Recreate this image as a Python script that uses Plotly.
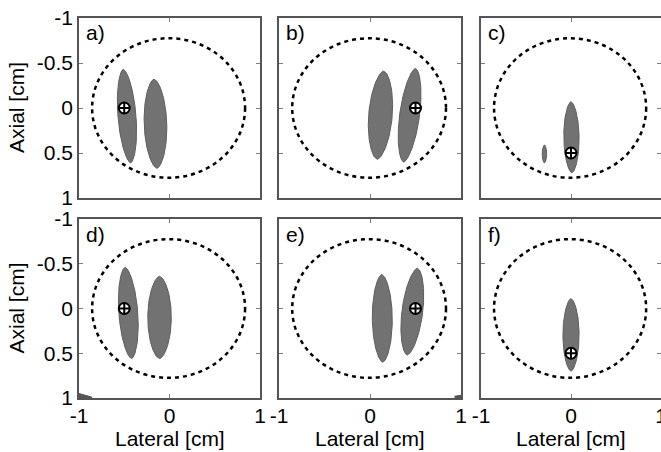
import numpy as np
import plotly.graph_objects as go

W, H = 661, 452

panel_labels = ["a)", "b)", "c)", "d)", "e)", "f)"]
x_ticks = [-1, 0, 1]
y_ticks = [-1, -0.5, 0, 0.5, 1]
y_ticktext = ["-1", "-0.5", "0", "0.5", "1"]

# target (crosshair marker) positions per panel
target_x = [-0.5, 0.5, 0.0, -0.5, 0.5, 0.0]
target_y = [0.0, 0.0, 0.5, 0.0, 0.0, 0.5]

# dashed region outline (ellipse) per panel: centre x, centre y, radius x, radius y
roi_cx = [-0.01] * 6
roi_cy = [0.0] * 6
roi_rx = [0.845] * 6
roi_ry = [0.775] * 6

# blobs: (top, bottom, x at top, x at bottom, half width)
blobs = [
    [(-0.43, 0.61, -0.51, -0.43, 0.10), (-0.32, 0.67, -0.17, -0.14, 0.125)],
    [(-0.41, 0.57, 0.15, 0.08, 0.13), (-0.44, 0.60, 0.50, 0.37, 0.11)],
    [(-0.07, 0.72, 0.0, 0.01, 0.085), (0.41, 0.61, -0.295, -0.295, 0.025)],
    [(-0.46, 0.56, -0.49, -0.42, 0.105), (-0.36, 0.56, -0.11, -0.11, 0.13)],
    [(-0.38, 0.60, 0.13, 0.14, 0.11), (-0.45, 0.52, 0.52, 0.41, 0.115)],
    [(-0.11, 0.70, 0.0, 0.0, 0.09)],
]

# small artefacts in the panel corners: panel index, x list, y list
corner_panel = [3, 4]
corner_x = [[-1.0, -0.86, -0.86, -1.0], [0.93, 1.0, 1.0, 0.93]]
corner_y = [[0.95, 0.99, 1.0, 1.0], [0.98, 0.97, 1.0, 1.0]]

# pixel layout of the panels
col_px = [(79, 260), (279, 461), (481, 661)]
row_px = [(18, 198), (219, 398)]

FONT = "Liberation Sans, Arial, sans-serif"
FS = 21

fig = go.Figure()
layout = dict(
    width=W, height=H,
    margin=dict(l=0, r=0, t=0, b=0, pad=0, autoexpand=False),
    paper_bgcolor="white", plot_bgcolor="white", showlegend=False,
    font=dict(family=FONT, size=FS, color="black"),
)
shapes = []
annotations = []

s = np.linspace(-1, 1, 121)
for i in range(6):
    r, c = divmod(i, 3)
    ax = "" if i == 0 else str(i + 1)
    xa, ya = "x" + ax, "y" + ax
    x0p, x1p = col_px[c]
    y0p, y1p = row_px[r]
    layout["xaxis" + ax] = dict(
        domain=[x0p / W, x1p / W], range=[-1, 1], anchor=ya,
        tickvals=x_ticks, ticktext=[str(v) for v in x_ticks],
        showticklabels=(r == 1), ticks="inside", ticklen=4, tickcolor="#808080",
        showline=True, linecolor="#555555", linewidth=1.5, mirror="ticks",
        showgrid=False, zeroline=False, fixedrange=True, automargin=False,
        ticklabeloverflow="allow", ticklabelstandoff=-2,
        tickfont=dict(family=FONT, size=FS, color="black"),
    )
    layout["yaxis" + ax] = dict(
        domain=[1 - y1p / H, 1 - y0p / H], range=[1, -1], anchor=xa,
        tickvals=y_ticks, ticktext=y_ticktext,
        showticklabels=(c == 0), ticks="inside", ticklen=4, tickcolor="#808080",
        showline=True, linecolor="#555555", linewidth=1.5, mirror="ticks",
        showgrid=False, zeroline=False, fixedrange=True, automargin=False,
        tickfont=dict(family=FONT, size=FS, color="black"),
    )
    # blobs
    for (top, bot, xt, xb, hw) in blobs[i]:
        f = (s + 1) / 2
        yc = top + f * (bot - top)
        xc = xt + f * (xb - xt)
        w = hw * np.clip(1 - s ** 2, 0, None) ** 0.6
        px = np.concatenate([xc + w, (xc - w)[::-1]])
        py = np.concatenate([yc, yc[::-1]])
        fig.add_trace(go.Scatter(
            x=px, y=py, xaxis=xa, yaxis=ya, mode="lines", fill="toself",
            fillcolor="#727272", line=dict(color="#5e5e5e", width=1),
            hoverinfo="skip",
        ))
    for k, p in enumerate(corner_panel):
        if p == i:
            fig.add_trace(go.Scatter(
                x=corner_x[k], y=corner_y[k], xaxis=xa, yaxis=ya, mode="lines",
                fill="toself", fillcolor="#555555",
                line=dict(color="#555555", width=1), hoverinfo="skip",
            ))
    # dashed ellipse
    shapes.append(dict(
        type="circle", xref=xa, yref=ya,
        x0=roi_cx[i] - roi_rx[i], x1=roi_cx[i] + roi_rx[i],
        y0=roi_cy[i] - roi_ry[i], y1=roi_cy[i] + roi_ry[i],
        line=dict(color="black", width=2.5, dash="4px,4px"),
    ))
    # target marker
    fig.add_trace(go.Scatter(
        x=[target_x[i]], y=[target_y[i]], xaxis=xa, yaxis=ya, mode="markers",
        marker=dict(symbol="circle-cross", size=11, color="white",
                    line=dict(color="black", width=2)),
        hoverinfo="skip",
    ))
    # panel label
    annotations.append(dict(
        text=panel_labels[i], xref="paper", yref="paper",
        x=(x0p + 5) / W, y=1 - (y0p + 15) / H, xanchor="left", yanchor="middle",
        showarrow=False, font=dict(family=FONT, size=FS, color="black"),
    ))

for r in range(2):
    y0p, y1p = row_px[r]
    annotations.append(dict(
        text="Axial [cm]", xref="paper", yref="paper", textangle=-90,
        x=16 / W, y=1 - ((y0p + y1p) / 2) / H, xanchor="center", yanchor="middle",
        showarrow=False, font=dict(family=FONT, size=FS, color="black"),
    ))
for c in range(3):
    x0p, x1p = col_px[c]
    annotations.append(dict(
        text="Lateral [cm]", xref="paper", yref="paper",
        x=((x0p + x1p) / 2) / W, y=1 - 438 / H, xanchor="center", yanchor="middle",
        showarrow=False, font=dict(family=FONT, size=FS, color="black"),
    ))

layout["shapes"] = shapes
layout["annotations"] = annotations
fig.update_layout(**layout)
fig.write_html("out.html", config={"displayModeBar": False})

# remove default page margins so the figure fills the window exactly
with open("out.html", encoding="utf-8") as fh:
    html = fh.read()
html = html.replace(
    "<head>",
    "<head><style>html,body{margin:0;padding:0;overflow:hidden;}</style>", 1)
with open("out.html", "w", encoding="utf-8") as fh:
    fh.write(html)
